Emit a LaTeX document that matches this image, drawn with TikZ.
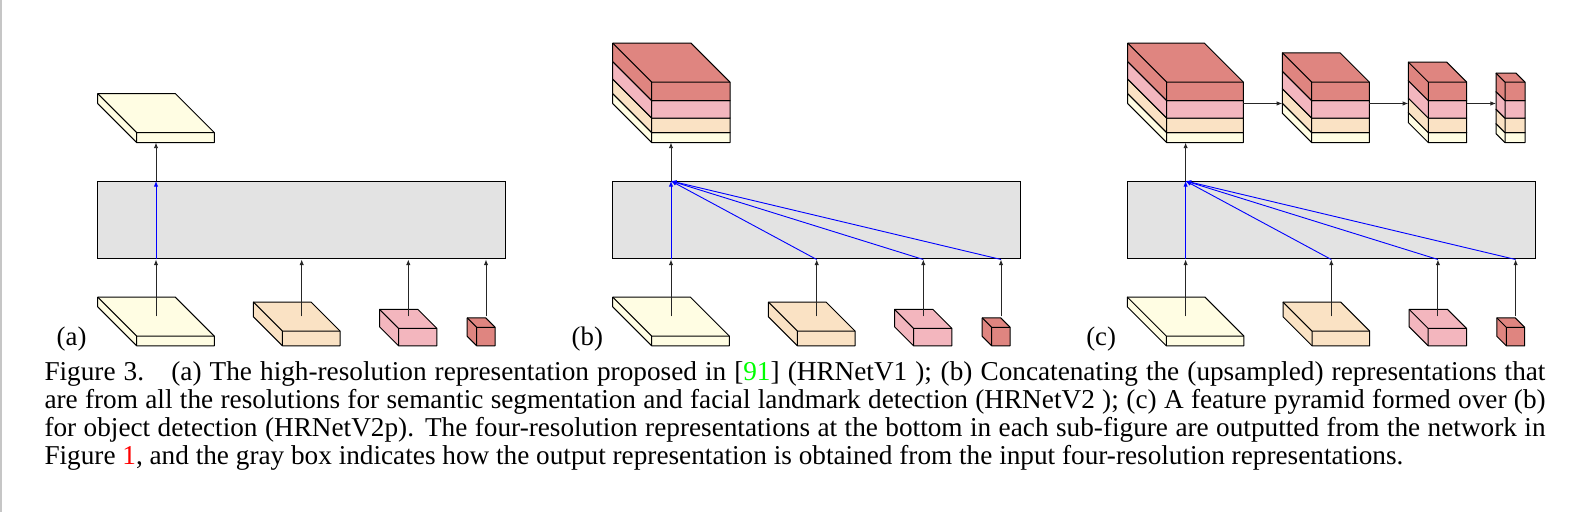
\documentclass[tikz,border=0pt]{standalone}
\usepackage{fontspec}
\setmainfont{Liberation Serif}
\usetikzlibrary{arrows.meta, calc}
\definecolor{R1}{HTML}{FFFDE3}
\definecolor{R2}{HTML}{FAE2C4}
\definecolor{R3}{HTML}{F3B6BE}
\definecolor{R4}{HTML}{DF8580}
\definecolor{G}{HTML}{E3E3E3}
\definecolor{C}{HTML}{00FF00}

% slab: front-left x, bottom y, width, height, depth, colour
\newcommand{\slab}[6]{
  \filldraw[fill=#6, line join=round] (#1,#2) -- ++(#3,0) -- ++(0,-#4) -- ++(-#5,-#5)
    -- ++(-#3,0) -- ++(0,#4) -- cycle;
  \draw[line join=round] (#1,#2) -- ++(0,-#4) -- ++(#3,0) (#1,#2-#4) -- ++(-#5,-#5);
}
% four resolutions stacked: front-left x, width, depth
\newcommand{\fstack}[3]{
  \slab{#1}{142.6}{#2}{10}{#3}{R1}
  \slab{#1}{132.6}{#2}{14.5}{#3}{R2}
  \slab{#1}{118.1}{#2}{17.5}{#3}{R3}
  \slab{#1}{100.6}{#2}{18.5}{#3}{R4}
}

\begin{document}
\begin{tikzpicture}[x=0.5pt, y=-0.5pt, line width=0.5pt,
    link/.style={-{Latex[length=2.8pt,width=2.2pt]}, black!85, line width=0.45pt},
    blink/.style={link, blue},
    graybox/.style={draw, fill=G, minimum width=204pt, minimum height=38.75pt, inner sep=0pt},
    lab/.style={font=\fontsize{13.4}{14.1}\selectfont, anchor=base west, inner sep=0pt}]
  \useasboundingbox (0,0) rectangle (1580,512);
  \draw[gray!45, line width=1pt] (1,0) -- (1,512);

  % gray box and the four inputs of every sub-figure
  \foreach \p/\s/\l in {A/97.7/a, B/612.7/b, C/1127.3/c} {
    \begin{scope}[shift={(\s,0)}]
      \node[graybox] (box\p) at (204,220.25) {};
      \slab{39}{345.8}{77.6}{9.7}{39}{R1}
      \slab{184.7}{345.8}{57.7}{14.7}{29}{R2}
      \slab{300.8}{345.8}{38.4}{17.4}{19}{R3}
      \slab{379}{345.8}{18.4}{18.5}{9.5}{R4}
      \coordinate (in\p1) at (58.3,316.5);
      \coordinate (in\p2) at (204,316.5);
      \coordinate (in\p3) at (310.6,316.5);
      \coordinate (in\p4) at (388.3,316.5);
      \coordinate (out\p) at (58.3,142.6);
      \draw[link] (in\p1) -- (in\p1 |- box\p.south);
      \draw[link] (in\p2) -- (in\p2 |- box\p.south);
      \draw[link] (in\p3) -- (in\p3 |- box\p.south);
      \draw[link] (in\p4) -- (in\p4 |- box\p.south);
      \draw[link] (box\p.north -| out\p) -- (out\p);
      \node[lab] (lab\p) at (-41.5,345.5) {(\l)};
    \end{scope}
  }

  % (a)
  \slab{136.7}{142.6}{77.6}{10}{39}{R1}
  \draw[blink] (boxA.south -| inA1) -- (boxA.north -| inA1);

  % (b)
  \fstack{651.7}{78.3}{39}
  \foreach \k in {1,...,4}
    \draw[blink] (boxB.south -| inB\k) -- (boxB.north -| inB1);

  % (c)
  \fstack{1166.7}{76.6}{39}
  \fstack{1311.7}{57.6}{29.3}
  \fstack{1428.3}{38.4}{20}
  \fstack{1505}{20}{9}
  \foreach \k in {1,...,4}
    \draw[blink] (boxC.south -| inC\k) -- (boxC.north -| inC1);
  \coordinate (p1e) at (1243.3,103.5);
  \coordinate (p2w) at (1282.3,103.5);
  \coordinate (p2e) at (1369.3,103.5);
  \coordinate (p3w) at (1408.3,103.5);
  \coordinate (p3e) at (1466.7,103.5);
  \coordinate (p4w) at (1496,103.5);
  \draw[link] (p1e) -- (p2w);
  \draw[link] (p2e) -- (p3w);
  \draw[link] (p3e) -- (p4w);

  % caption
  \node[anchor=north west, inner sep=0pt, text width=750.5pt, align=justify,
    font=\fontsize{13.62}{14.1}\selectfont] (caption) at (44,361)
    {\hyphenpenalty=10000
    Figure 3.\quad(a) The high-resolution representation proposed in [{\color{C}91}] (HRNetV1 ); (b) Concatenating the (upsampled) representations that\linebreak
    are from all the resolutions for semantic segmentation and facial landmark detection (HRNetV2 ); (c) A feature pyramid formed over (b)\linebreak
    for object detection (HRNetV2p). The four-resolution representations at the bottom in each sub-figure are outputted from the network in\linebreak
    Figure {\color{red}1}, and the gray box indicates how the output representation is obtained from the input four-resolution representations.};
\end{tikzpicture}
\end{document}
